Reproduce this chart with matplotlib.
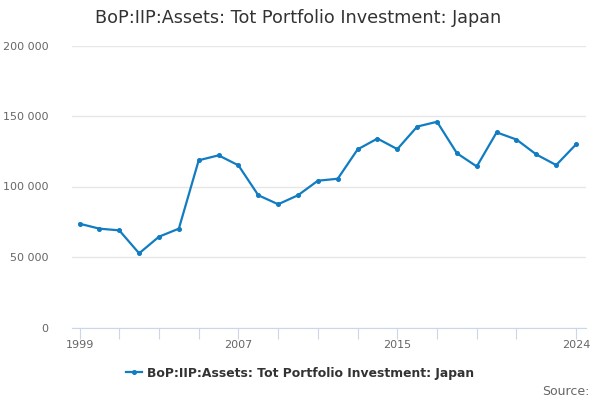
import numpy as np
import matplotlib
matplotlib.use('Agg')
import matplotlib.pyplot as plt
from matplotlib.ticker import FuncFormatter

years = list(range(1999, 2025))
values = [73600, 70100, 68900, 52600, 64400, 70100, 118600, 122100, 115000,
          93800, 87400, 93800, 104100, 105500, 126300, 134000, 126500, 142500,
          145900, 123600, 114200, 138400, 133300, 122700, 115200, 129900]
xtick_pos = [1999, 2001, 2003, 2005, 2007, 2009, 2011, 2013, 2015, 2017, 2019, 2021, 2024]
xtick_lab = ['1999', '', '', '', '2007', '', '', '', '2015', '', '', '', '2024']
ytick_pos = [0, 50000, 100000, 150000, 200000]

title = 'BoP:IIP:Assets: Tot Portfolio Investment: Japan'
line_col = '#117cc1'

fig = plt.figure(figsize=(6, 4), dpi=100)
ax = fig.add_axes([72/600, 1 - 327.5/400, (586-72)/600, (327.5-45.5)/400])

ax.plot(years, values, color=line_col, lw=1.6, marker='o', ms=2.6, label=title)

ax.set_ylim(0, 200000)
ax.set_xlim(1999 - 0.38, 2024 + 0.5)
ax.set_yticks(ytick_pos)
ax.yaxis.set_major_formatter(FuncFormatter(lambda v, p: '{:,.0f}'.format(v).replace(',', ' ')))
ax.set_xticks(xtick_pos)
ax.set_xticklabels(xtick_lab)
ax.grid(axis='y', color='#e6e6e6', lw=1)
ax.set_axisbelow(True)
for s in ['top', 'right', 'left']:
    ax.spines[s].set_visible(False)
ax.spines['bottom'].set_color('#ccd6eb')
ax.tick_params(axis='y', length=0, labelsize=8, labelcolor='#666666', pad=17)
ax.tick_params(axis='x', length=8, color='#ccd6eb', labelsize=8, labelcolor='#666666', pad=1)

fig.text(0.497, 0.955, title, ha='center', va='center', fontsize=12.7, color='#333333')
leg = fig.legend(loc='center', bbox_to_anchor=(0.5, 0.067), frameon=False,
                 prop={'size': 8.9, 'weight': 'bold'}, handlelength=1.3, handletextpad=0.4)
for t in leg.get_texts():
    t.set_color('#333333')
fig.text(0.983, 0.022, 'Source:', ha='right', va='center', fontsize=9, color='#666666')

plt.savefig('out.png', dpi=100)
